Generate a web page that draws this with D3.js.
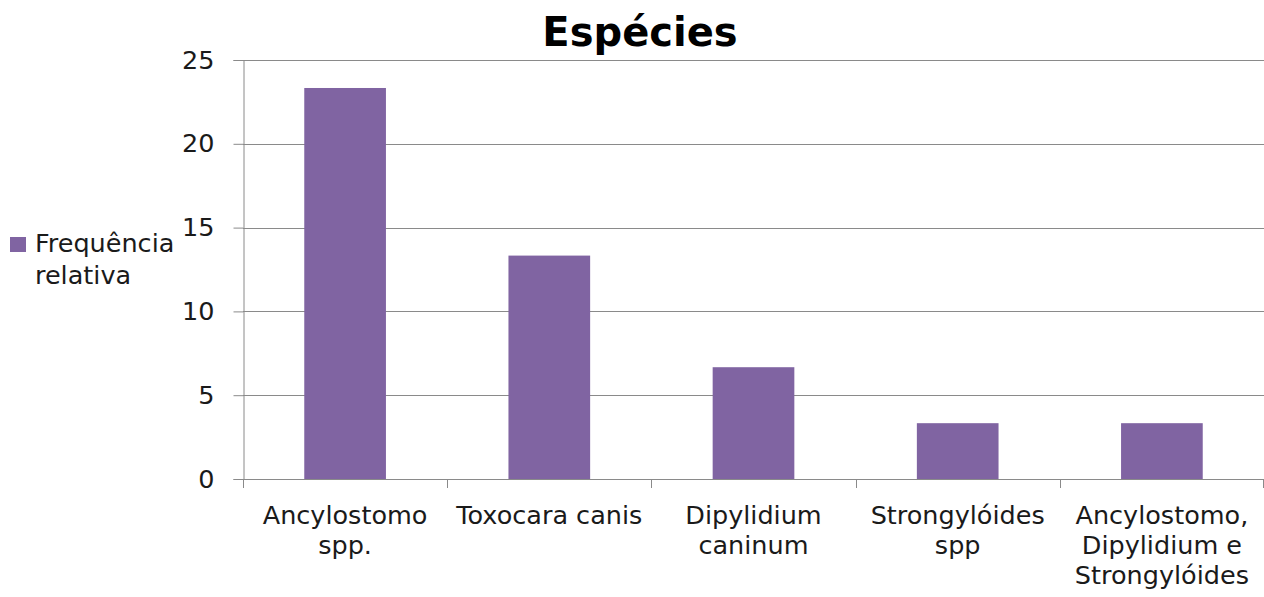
<!DOCTYPE html>
<html>
<head>
<meta charset="utf-8">
<script src="https://cdn.jsdelivr.net/npm/d3@7"></script>
<style>
  html, body { margin: 0; padding: 0; background: #fff; }
  svg { display: block; }
  text { font-family: "DejaVu Sans", sans-serif; }
</style>
</head>
<body>
<svg id="chart" width="1264" height="597"></svg>
<script>
const categories = ["Ancylostomo spp.", "Toxocara canis", "Dipylidium caninum", "Strongylóides spp", "Ancylostomo, Dipylidium e Strongylóides"];
const values = [23.33, 13.33, 6.67, 3.33, 3.33];
const yTicks = [0, 5, 10, 15, 20, 25];
const seriesName = "Frequência relativa";
const legendLines = ["Frequência", "relativa"];
const title = "Espécies";

const svg = d3.select("#chart");
const mLeft = 243, mRight = 1264, mTop = 60, mBottom = 479;
const barColor = "#8064A2";
const gridColor = "#8a8a8a";
const fs = 25.5;

const x = d3.scaleBand().domain(categories).range([mLeft, mRight]).paddingInner(0.6).paddingOuter(0.3);
const xb = d3.scaleBand().domain(categories).range([mLeft, mRight]).padding(0);
const y = d3.scaleLinear().domain([0, 25]).range([mBottom, mTop]);

// gridlines
svg.append("g").selectAll("line").data(yTicks.filter(d => d > 0)).join("line")
  .attr("x1", mLeft).attr("x2", mRight)
  .attr("y1", d => Math.round(y(d)) + 0.5).attr("y2", d => Math.round(y(d)) + 0.5)
  .attr("stroke", gridColor).attr("stroke-width", 1);

// bars
svg.append("g").selectAll("rect").data(values).join("rect")
  .attr("x", (d, i) => x(categories[i]))
  .attr("width", x.bandwidth())
  .attr("y", d => y(d))
  .attr("height", d => y(0) - y(d))
  .attr("fill", barColor);

// y axis
const yAxis = svg.append("g").attr("transform", `translate(${mLeft + 0.5},0)`)
  .call(d3.axisLeft(y).tickValues(yTicks).tickSize(10).tickPadding(19));
yAxis.select(".domain").attr("stroke", gridColor);
yAxis.selectAll(".tick line").attr("stroke", gridColor);
yAxis.selectAll(".tick text").attr("font-size", fs).attr("fill", "#1a1a1a")
  .attr("font-family", "DejaVu Sans, sans-serif");

// x axis
const boundaries = categories.map(c => xb(c)).concat([mRight - 1]);
svg.append("line").attr("x1", mLeft).attr("x2", mRight)
  .attr("y1", mBottom + 0.5).attr("y2", mBottom + 0.5).attr("stroke", gridColor);
svg.append("g").selectAll("line").data(boundaries).join("line")
  .attr("x1", d => Math.round(d) + 0.5).attr("x2", d => Math.round(d) + 0.5)
  .attr("y1", mBottom).attr("y2", mBottom + 9).attr("stroke", gridColor);

// category labels with wrapping
const maxW = 200;
const labelG = svg.append("g");
categories.forEach((c, i) => {
  const cx = xb(c) + xb.bandwidth() / 2;
  const t = labelG.append("text").attr("text-anchor", "middle")
    .attr("font-size", fs).attr("fill", "#1a1a1a");
  const words = c.split(" ");
  let lines = [], cur = [];
  const probe = labelG.append("text").attr("font-size", fs);
  words.forEach(w => {
    const test = cur.concat([w]).join(" ");
    probe.text(test);
    if (probe.node().getComputedTextLength() > maxW && cur.length) {
      lines.push(cur.join(" "));
      cur = [w];
    } else cur.push(w);
  });
  lines.push(cur.join(" "));
  probe.remove();
  lines.forEach((ln, j) => {
    t.append("tspan").attr("x", cx).attr("y", 524 + j * 30).text(ln);
  });
});

// title
svg.append("text").attr("x", 640).attr("y", 46).attr("text-anchor", "middle")
  .attr("font-size", 40).attr("font-weight", "bold").attr("fill", "#000").text(title);

// legend
svg.append("rect").attr("x", 10).attr("y", 237).attr("width", 16).attr("height", 15).attr("fill", barColor);
const lt = svg.append("text").attr("font-size", fs).attr("fill", "#1a1a1a");
legendLines.forEach((ln, j) => {
  lt.append("tspan").attr("x", 35).attr("y", 252 + j * 32).text(ln);
});
</script>
</body>
</html>
